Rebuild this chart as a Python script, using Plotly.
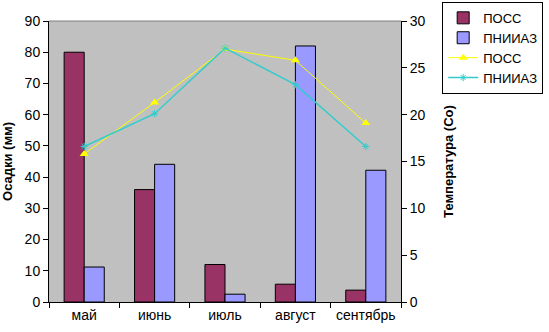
import plotly.graph_objects as go

months = ["май", "июнь", "июль", "август", "сентябрь"]
precip_poss = [80, 36, 12, 5.7, 3.8]
precip_pniiaz = [11.2, 44.1, 2.5, 82, 42.2]
temp_poss = [15.8, 21.3, 27.0, 25.8, 19.1]
temp_pniiaz = [16.6, 20.1, 27.1, 23.2, 16.6]

FONT = "Liberation Sans, Arial, sans-serif"

fig = go.Figure()
fig.add_trace(go.Bar(x=months, y=precip_poss, name="ПОСС",
                     marker=dict(color="#993366", line=dict(color="black", width=1))))
fig.add_trace(go.Bar(x=months, y=precip_pniiaz, name="ПНИИАЗ",
                     marker=dict(color="#9999FF", line=dict(color="black", width=1))))
fig.add_trace(go.Scatter(x=months, y=temp_poss, name="ПОСС", yaxis="y2",
                         mode="lines+markers",
                         line=dict(color="#FFFF00", width=1),
                         marker=dict(symbol="triangle-up", size=8, color="#FFFF00")))
fig.add_trace(go.Scatter(x=months, y=temp_pniiaz, name="ПНИИАЗ", yaxis="y2",
                         mode="lines+markers",
                         line=dict(color="#33CCCC", width=1.5),
                         marker=dict(symbol="asterisk-open", size=6,
                                     line=dict(color="#33CCCC", width=1))))

fig.update_layout(
    width=549, height=332,
    margin=dict(l=49, r=148, t=21, b=30, autoexpand=False),
    paper_bgcolor="white", plot_bgcolor="#C0C0C0",
    font=dict(family=FONT, size=13, color="black"),
    barmode="group", bargap=0.43, bargroupgap=0,
    showlegend=True,
    legend=dict(x=1.117, y=1.068, xanchor="left", yanchor="top",
                bordercolor="black", borderwidth=1, bgcolor="white",
                font=dict(family=FONT, size=13), tracegroupgap=0,
                traceorder="normal"),
    xaxis=dict(type="category", showgrid=False, ticks="outside", tickson="boundaries",
               ticklen=5, tickcolor="black", showline=True, linecolor="black",
               linewidth=1, tickfont=dict(size=14), tickangle=0, automargin=False,
               range=[-0.5, 4.5]),
    yaxis=dict(range=[0, 90], dtick=10, showgrid=False, ticks="outside", ticklen=5,
               tickcolor="black", showline=True, linecolor="black", zeroline=False,
               automargin=False,
               title=dict(text="<b>Осадки (мм)</b>", font=dict(size=13), standoff=9),
               tickfont=dict(size=14)),
    yaxis2=dict(range=[0, 30], dtick=5, overlaying="y", side="right", showgrid=False,
                ticks="outside", ticklen=5, tickcolor="black", showline=True,
                linecolor="black", zeroline=False, automargin=False,
                title=dict(text="<b>Температура (Со)</b>", font=dict(size=13), standoff=19),
                tickfont=dict(size=14)),
    shapes=[dict(type="line", xref="paper", yref="paper", x0=0, x1=1, y0=1, y1=1,
                 line=dict(color="#808080", width=1))],
)

fig.write_html("out.html")
